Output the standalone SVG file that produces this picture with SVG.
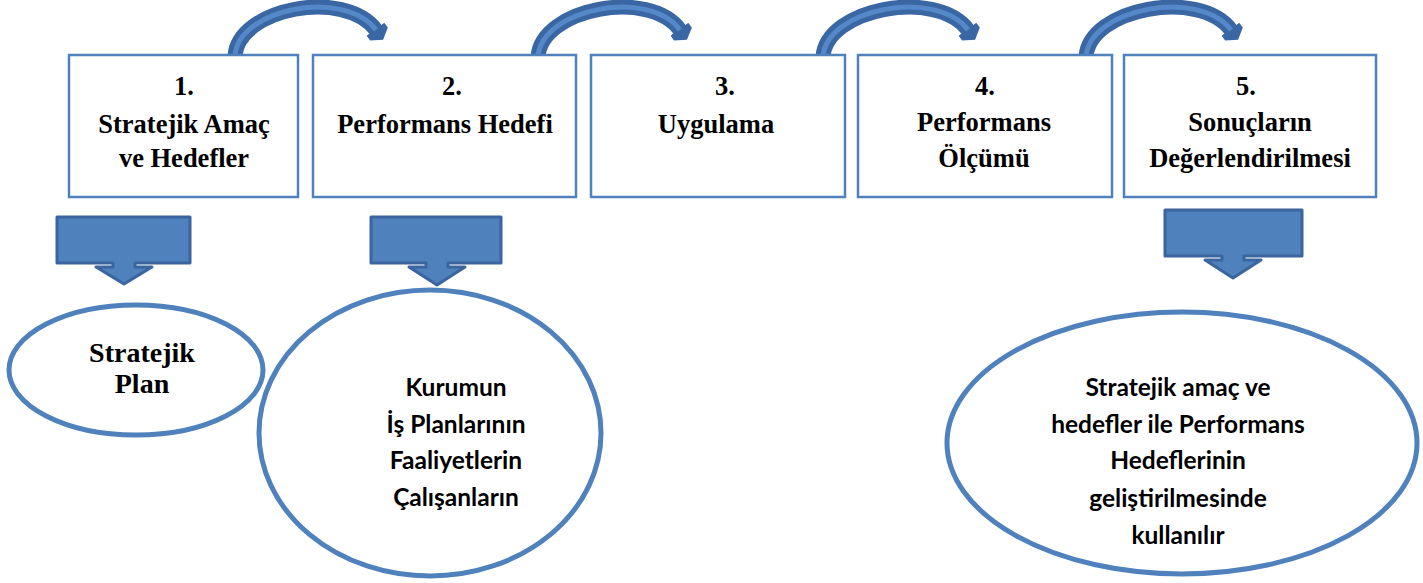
<svg xmlns="http://www.w3.org/2000/svg" width="1423" height="583" viewBox="0 0 1423 583">
<style>
.box{fill:#fff;stroke:#4f81bd;stroke-width:2.5}
.ell{fill:#fff;stroke:#4f81bd;stroke-width:5}
.blk{fill:#4f81bd;stroke:#3a659e;stroke-width:3;stroke-linejoin:round}
.t{font-family:"Liberation Serif","Times New Roman",serif;font-weight:bold;font-size:26.5px;fill:#000;text-anchor:middle}
.t2{font-family:"Liberation Serif","Times New Roman",serif;font-weight:bold;font-size:28px;fill:#000;text-anchor:middle}
.c{font-family:Lato,"Open Sans",sans-serif;font-weight:bold;font-size:24.5px;fill:#000;text-anchor:middle}
.arcO{fill:none;stroke:#3a67a3;stroke-width:15;stroke-linecap:butt}
.arcI{fill:none;stroke:#5588c8;stroke-width:5}
</style>
<defs>
<marker id="ah" markerUnits="userSpaceOnUse" markerWidth="30" markerHeight="30" refX="1" refY="12" orient="auto">
<path d="M0,1 L6,1 L13,12 L6,23 L0,23 Z" fill="#3a67a3"/>
</marker>
</defs>
<g id="connectors">
<path class="arcO" d="M235,56 C238,8 345,-12 376,30" marker-end="url(#ah)"/>
<path class="arcI" d="M235,56 C238,8 345,-12 376,30"/>
<path class="arcO" d="M538,57 C541,8 650,-12 680,30" marker-end="url(#ah)"/>
<path class="arcI" d="M538,57 C541,8 650,-12 680,30"/>
<path class="arcO" d="M823,57 C826,8 937,-12 968,30" marker-end="url(#ah)"/>
<path class="arcI" d="M823,57 C826,8 937,-12 968,30"/>
<path class="arcO" d="M1086,57 C1089,8 1200,-12 1231,30" marker-end="url(#ah)"/>
<path class="arcI" d="M1086,57 C1089,8 1200,-12 1231,30"/>
<path class="blk" d="M57,217 H190 V263 H135 V267 H152 L124,284 L96,267 H113 V263 H57 Z"/>
<path class="blk" d="M371,217 H501 V263 H448 V267 H465 L437,285 L409,267 H426 V263 H371 Z"/>
<path class="blk" d="M1165,210 H1302 V256 H1244 V260 H1261 L1233,278 L1205,260 H1222 V256 H1165 Z"/>
</g>
<g id="box1"><rect class="box" x="69" y="55" width="229" height="142"/>
<text class="t" x="184" y="95">1.</text><text class="t" x="184" y="133">Stratejik Amaç</text><text class="t" x="184" y="167">ve Hedefler</text></g>
<g id="box2"><rect class="box" x="313" y="55" width="263" height="142"/>
<text class="t" x="452" y="95">2.</text><text class="t" x="445" y="133">Performans Hedefi</text></g>
<g id="box3"><rect class="box" x="591" y="55" width="254" height="142"/>
<text class="t" x="725" y="95">3.</text><text class="t" x="716" y="133">Uygulama</text></g>
<g id="box4"><rect class="box" x="858" y="55" width="254" height="142"/>
<text class="t" x="985" y="95">4.</text><text class="t" x="984" y="131">Performans</text><text class="t" x="984" y="167">Ölçümü</text></g>
<g id="box5"><rect class="box" x="1124" y="55" width="252" height="142"/>
<text class="t" x="1246" y="95">5.</text><text class="t" x="1250" y="131">Sonuçların</text><text class="t" x="1250" y="167">Değerlendirilmesi</text></g>
<g id="ell1"><ellipse class="ell" cx="136" cy="370" rx="127" ry="65"/>
<text class="t2" x="142" y="362">Stratejik</text><text class="t2" x="142" y="393">Plan</text></g>
<g id="ell2"><ellipse class="ell" cx="430" cy="433" rx="171" ry="143"/>
<text class="c" x="456" y="396">Kurumun</text><text class="c" x="456" y="433">İş Planlarının</text><text class="c" x="456" y="469">Faaliyetlerin</text><text class="c" x="456" y="506">Çalışanların</text></g>
<g id="ell3"><ellipse class="ell" cx="1182" cy="443" rx="235" ry="131"/>
<text class="c" x="1178" y="396">Stratejik amaç ve</text><text class="c" x="1178" y="433">hedefler ile Performans</text><text class="c" x="1178" y="469">Hedeflerinin</text><text class="c" x="1178" y="507">geliştirilmesinde</text><text class="c" x="1178" y="544">kullanılır</text></g>
</svg>
